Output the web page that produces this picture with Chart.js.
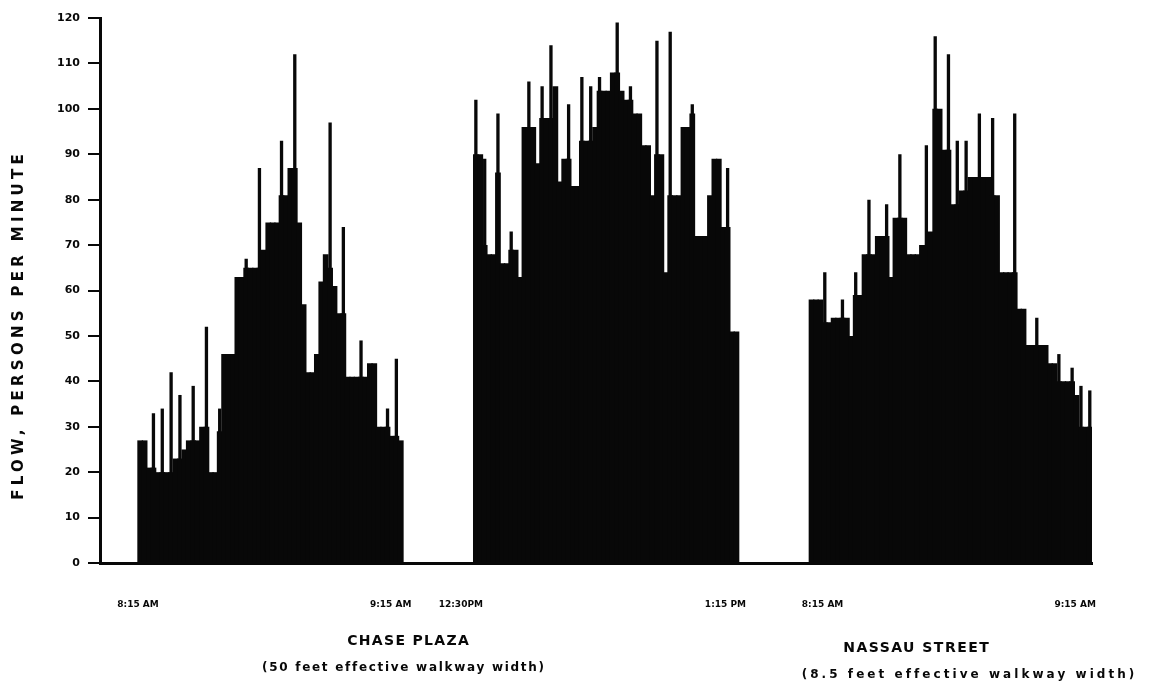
<!DOCTYPE html>
<html>
<head>
<meta charset="utf-8">
<script src="https://cdn.jsdelivr.net/npm/chart.js@4.4.1/dist/chart.umd.min.js"></script>
<style>
html, body { margin: 0; padding: 0; background: #fff; }
#wrap { width: 1159px; height: 687px; }
</style>
</head>
<body>
<div id="wrap"><canvas id="flowChart"></canvas></div>
<script>
// one slot = one minute of counting, groups placed along a shared slot axis
const groupStarts = [0, 76, 152];

// Chase Plaza, 8:15 - 9:15 AM
const chaseMorning = [27, 27, 21, 21, 20, 20, 20, 20, 23, 23,
    25, 27, 27, 27, 30, 30, 20, 20, 29, 46,
    46, 46, 63, 63, 65, 65, 65, 65, 69, 75,
    75, 75, 81, 81, 87, 87, 75, 57, 42, 42,
    46, 62, 68, 65, 61, 55, 55, 41, 41, 41,
    41, 41, 44, 44, 30, 30, 30, 28, 28, 27];
const chaseMorningPeaks = [[3, 33], [5, 34], [7, 42], [9, 37], [12, 39], [15, 52], [18, 34], [24, 67],
    [27, 87], [32, 93], [35, 112], [43, 97], [46, 74], [50, 49], [56, 34], [58, 45]];

// Chase Plaza, 12:30 - 1:15 PM
const chaseLunch = [90, 90, 70, 68, 68, 86, 66, 66, 69, 69,
    63, 96, 96, 96, 88, 98, 98, 98, 105, 84,
    89, 89, 83, 83, 93, 93, 93, 96, 104, 104,
    104, 108, 108, 104, 102, 102, 99, 99, 92, 92,
    81, 90, 90, 64, 81, 81, 81, 96, 96, 99,
    72, 72, 72, 81, 89, 89, 74, 74, 51, 51];
const chaseLunchPeaks = [[0, 102], [2, 89], [5, 99], [8, 73], [12, 106], [15, 105], [17, 114], [21, 101],
    [24, 107], [26, 105], [28, 107], [32, 119], [35, 105], [41, 115], [44, 117], [49, 101], [57, 87]];

// Nassau Street, 8:15 - 9:15 AM
const nassau = [58, 58, 58, 53, 53, 54, 54, 54, 54, 50,
    59, 59, 68, 68, 68, 72, 72, 72, 63, 76,
    76, 76, 68, 68, 68, 70, 70, 73, 100, 100,
    91, 91, 79, 79, 82, 82, 85, 85, 85, 85,
    85, 81, 81, 64, 64, 64, 64, 56, 56, 48,
    48, 48, 48, 48, 44, 44, 40, 40, 40, 40,
    37, 30, 30, 30];
const nassauPeaks = [[3, 64], [7, 58], [10, 64], [13, 80], [17, 79], [20, 90], [26, 92], [28, 116],
    [31, 112], [33, 93], [35, 93], [38, 99], [41, 98], [46, 99], [51, 54], [56, 46], [59, 43], [61, 39], [63, 38]];

const tickSlots = [0, 57.2, 73.1, 133, 155, 212.2];
const tickLabels = ['8:15 AM', '9:15 AM', '12:30PM', '1:15 PM', '8:15 AM', '9:15 AM'];

const yTitle = 'FLOW, PERSONS PER MINUTE';
const captions = [
    { text: 'CHASE PLAZA', x: 408, y: 641, width: 123, size: 14 },
    { text: '(50 feet effective walkway width)', x: 403, y: 668, width: 283, size: 12 },
    { text: 'NASSAU STREET', x: 916, y: 648, width: 147, size: 14 },
    { text: '(8.5 feet effective walkway width)', x: 968, y: 675, width: 335, size: 12 }
];

const ink = '#080808';

const series = [chaseMorning, chaseLunch, nassau];
const peaks = [chaseMorningPeaks, chaseLunchPeaks, nassauPeaks];

const blockData = [];
series.forEach((vals, g) => {
    vals.forEach((v, i) => blockData.push({ x: groupStarts[g] + i + 0.5, y: v }));
});
const peakData = [];
peaks.forEach((list, g) => {
    list.forEach(([i, v]) => peakData.push({ x: groupStarts[g] + i + 0.5, y: v }));
});

function fitText(ctx, text, x, y, width, size) {
    ctx.font = 'bold ' + size + 'px "DejaVu Sans"';
    ctx.letterSpacing = '0px';
    const natural = ctx.measureText(text).width;
    const spacing = Math.max(0, (width - natural) / text.length);
    ctx.letterSpacing = spacing + 'px';
    ctx.fillText(text, x + spacing / 2, y);
    ctx.letterSpacing = '0px';
}

const captionPlugin = {
    id: 'captions',
    afterDraw(chart) {
        const ctx = chart.ctx;
        ctx.save();
        ctx.fillStyle = ink;
        ctx.textAlign = 'center';
        ctx.textBaseline = 'middle';
        captions.forEach(c => fitText(ctx, c.text, c.x, c.y, c.width, c.size));
        ctx.translate(19, 327);
        ctx.rotate(-Math.PI / 2);
        fitText(ctx, yTitle, 0, 0, 350, 15);
        ctx.restore();
    }
};

const ctx = document.getElementById('flowChart').getContext('2d');
const flowChart = new Chart(ctx, {
    type: 'bar',
    data: {
        datasets: [{
            label: 'Flow',
            data: blockData,
            backgroundColor: ink,
            borderWidth: 0,
            grouped: false,
            barPercentage: 1.3,
            categoryPercentage: 1
        }, {
            label: 'Peak',
            data: peakData,
            backgroundColor: ink,
            borderWidth: 0,
            grouped: false,
            barPercentage: 0.75,
            categoryPercentage: 1
        }]
    },
    options: {
        responsive: true,
        maintainAspectRatio: false,
        animation: false,
        layout: { padding: { top: 18, right: 67, left: 0, bottom: 0 } },
        plugins: {
            legend: { display: false },
            tooltip: { enabled: false }
        },
        scales: {
            x: {
                type: 'linear',
                offset: false,
                min: -8.6,
                max: 216,
                afterBuildTicks(scale) {
                    scale.ticks = tickSlots.map(v => ({ value: v }));
                },
                ticks: {
                    autoSkip: false,
                    maxRotation: 0,
                    padding: 36,
                    color: ink,
                    font: { family: 'DejaVu Sans', weight: 'bold', size: 9 },
                    callback: (value, index) => tickLabels[index]
                },
                grid: { display: false, drawTicks: false },
                border: { display: true, color: ink, width: 3 },
                afterFit(scale) { scale.height = 124; }
            },
            y: {
                min: 0,
                max: 120,
                ticks: {
                    stepSize: 10,
                    padding: 8,
                    color: ink,
                    font: { family: 'DejaVu Sans', weight: 'bold', size: 11 }
                },
                grid: { drawOnChartArea: false, drawTicks: true, tickLength: 12, color: ink, lineWidth: 2 },
                border: { display: true, color: ink, width: 3 },
                afterFit(scale) { scale.width = 100; }
            }
        }
    },
    plugins: [captionPlugin]
});
</script>
</body>
</html>
